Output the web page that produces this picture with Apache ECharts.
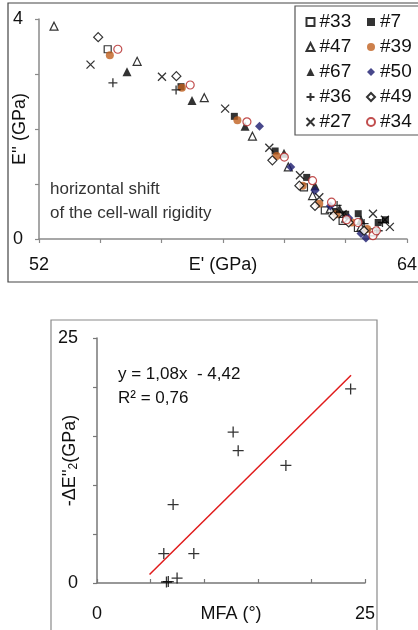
<!DOCTYPE html>
<html>
<head>
<meta charset="utf-8">
<script src="https://cdn.jsdelivr.net/npm/echarts@6/dist/echarts.min.js"></script>
<style>
html, body { margin: 0; padding: 0; background: #fff; }
#main { width: 418px; height: 630px; }
</style>
</head>
<body>
<div id="main"></div>
<script>
// top chart: E'' vs E' per sample
var s33 = [[54.24,3.45],[60.64,0.94],[61.32,0.52],[61.9,0.33],[62.4,0.2],[62.9,0.12]]
var s7  = [[56.63,2.77],[58.37,2.23],[59.7,1.6],[60.73,1.12],[61.6,0.5],[62.0,0.45],[62.41,0.46],[63.06,0.3],[63.3,0.35]]
var s47 = [[52.49,3.87],[55.2,3.23],[57.39,2.57],[58.96,1.87],[60.13,1.31],[60.92,0.79],[61.5,0.55],[62.0,0.38],[62.5,0.22]]
var s39 = [[54.31,3.34],[56.66,2.75],[58.47,2.16],[59.75,1.51],[60.6,0.97],[61.14,0.64],[61.7,0.45],[62.2,0.3],[62.7,0.18]]
var s67 = [[54.87,3.04],[56.99,2.52],[58.72,2.05],[59.99,1.56],[61.0,0.97],[61.8,0.55],[62.5,0.35]]
var s50 = [[59.19,2.05],[60.21,1.31],[61.0,0.88],[61.5,0.6],[62.1,0.38],[62.5,0.1],[62.66,0.02]]
var s36 = [[54.41,2.84],[56.47,2.71],[61.72,0.61],[62.6,0.28],[63.06,0.15],[63.2,0.3]]
var s49 = [[53.93,3.67],[56.48,2.96],[59.61,1.43],[60.49,0.97],[61.0,0.6],[61.6,0.42],[62.1,0.3],[62.6,0.15]]
var s27 = [[53.68,3.17],[56.01,2.95],[58.07,2.37],[59.51,1.66],[60.51,1.16],[61.14,0.76],[61.9,0.45],[62.89,0.46],[63.28,0.35],[63.44,0.22]]
var s34 = [[54.57,3.45],[56.93,2.8],[58.78,2.13],[60.0,1.49],[60.92,1.06],[61.54,0.67],[62.03,0.35],[62.4,0.3],[62.89,0.06],[63.0,0.15]]

var legendLeft = ['#33', '#47', '#67', '#36', '#27']
var legendRight = ['#7', '#39', '#50', '#49', '#34']

// bottom chart: -dE''2 vs MFA
var mfa = [23.66, 12.7, 13.17, 17.62, 7.1, 6.23, 9.03, 6.48, 6.65, 7.47]
var dE2 = [19.8, 15.4, 13.5, 12.0, 8.0, 3.0, 3.0, 0.1, 0.15, 0.5]
var fitX = [4.9, 23.7]
var fitY = [0.87, 21.2]

var topXLabels = ['52', '64']
var topYLabels = ['0', '4']
var botLabels = ['0', '25']

var FONT = 'Liberation Sans, Arial, sans-serif'
var PLUS = 'path://M5 0L5 10M0 5L10 5'
var CROSS = 'path://M0 0L10 10M10 0L0 10'

function edgeOnly(list) {
	return function (v) { return list.indexOf(String(v)) >= 0 ? String(v) : '' }
}

function sc(name, data, symbol, size, style) {
	return {
		name: name, type: 'scatter', xAxisIndex: 0, yAxisIndex: 0,
		data: data, symbol: symbol, symbolSize: size,
		itemStyle: style, emphasis: { disabled: true }
	}
}

var open = function (c) { return { color: '#fff', borderColor: c, borderWidth: 1.2 } }
var line = { color: 'none', borderColor: '#000', borderWidth: 1.3 }

var axisCommon = {
	nameMoveOverlap: false,
	axisLine: { lineStyle: { color: '#8a8a8a', width: 1.5 } },
	axisTick: { length: 4, lineStyle: { color: '#8a8a8a', width: 1.2 } },
	splitLine: { show: false },
	nameTextStyle: { fontFamily: FONT, fontSize: 18, color: '#111' }
}

var myChart = echarts.init(document.getElementById('main'))

var option = {
	animation: false,
	textStyle: { fontFamily: FONT },
	grid: [
		{ left: 39, top: 19, width: 368, height: 220, outerBoundsMode: 'none' },
		{ left: 97, top: 338, width: 268, height: 245, outerBoundsMode: 'none' }
	],
	xAxis: [
		Object.assign({}, axisCommon, {
			gridIndex: 0, type: 'value', min: 52, max: 64, interval: 2,
			name: "E' (GPa)", nameLocation: 'middle', nameGap: 17,
			axisLabel: { margin: 17, fontSize: 18, color: '#111', fontFamily: FONT, formatter: edgeOnly(topXLabels) }
		}),
		Object.assign({}, axisCommon, {
			gridIndex: 1, type: 'value', min: 0, max: 25, interval: 5,
			name: 'MFA (°)', nameLocation: 'middle', nameGap: 22,
			axisTick: { length: 4, inside: true, lineStyle: { color: '#777', width: 1.2 } },
			axisLine: { lineStyle: { color: '#777', width: 1.5 } },
			axisLabel: { margin: 22, fontSize: 18, color: '#111', fontFamily: FONT, formatter: edgeOnly(botLabels) }
		})
	],
	yAxis: [
		Object.assign({}, axisCommon, {
			gridIndex: 0, type: 'value', min: 0, max: 4, interval: 1,
			name: "E'' (GPa)", nameLocation: 'middle', nameGap: 10,
			axisLabel: { margin: 16, fontSize: 18, color: '#111', fontFamily: FONT, formatter: edgeOnly(topYLabels) }
		}),
		Object.assign({}, axisCommon, {
			gridIndex: 1, type: 'value', min: 0, max: 25, interval: 5,
			name: "-ΔE''{s|2}(GPa)", nameLocation: 'middle', nameGap: 17,
			axisLine: { lineStyle: { color: '#777', width: 1.5 } },
			axisTick: { length: 4, lineStyle: { color: '#777', width: 1.2 } },
			nameTextStyle: { fontFamily: FONT, fontSize: 18, color: '#111', rich: { s: { fontSize: 12, verticalAlign: 'bottom', padding: [8, 0, 0, 0], fontFamily: FONT, color: '#111' } } },
			axisLabel: { margin: 19, fontSize: 18, color: '#111', fontFamily: FONT, formatter: edgeOnly(botLabels) }
		})
	],
	legend: [
		{ data: legendLeft, orient: 'vertical', left: 304, top: 12, padding: 0, itemGap: 5, itemWidth: 8, itemHeight: 8,
		  textStyle: { fontSize: 19, lineHeight: 20, color: '#111', fontFamily: FONT }, selectedMode: false },
		{ data: legendRight, orient: 'vertical', left: 366, top: 12, padding: 0, itemGap: 5, itemWidth: 8, itemHeight: 8,
		  textStyle: { fontSize: 19, lineHeight: 20, color: '#111', fontFamily: FONT }, selectedMode: false }
	],
	graphic: [
		{ type: 'rect', z: 0, silent: true, shape: { x: 8, y: 3, width: 420, height: 279 }, style: { fill: 'none', stroke: '#444', lineWidth: 1.2 } },
		{ type: 'rect', z: 0, silent: true, shape: { x: 295, y: 6, width: 130, height: 129 }, style: { fill: '#fff', stroke: '#555', lineWidth: 1.2 } },
		{ type: 'rect', z: 0, silent: true, shape: { x: 51, y: 320, width: 326, height: 330 }, style: { fill: 'none', stroke: '#8a8a8a', lineWidth: 1.2 } },
		{ type: 'text', left: 50, top: 177, style: { text: 'horizontal shift\nof the cell-wall rigidity', font: '17px ' + FONT, fill: '#333', lineHeight: 24 } },
		{ type: 'text', left: 118, top: 362, style: { text: 'y = 1,08x  - 4,42\nR² = 0,76', font: '17px ' + FONT, fill: '#111', lineHeight: 24 } }
	],
	series: [
		sc('#33', s33, 'rect', 7, open('#000')),
		sc('#7', s7, 'rect', 7, { color: '#000' }),
		sc('#47', s47, 'triangle', 8, open('#000')),
		sc('#39', s39, 'circle', 8, { color: '#c0601f' }),
		sc('#67', s67, 'triangle', 9, { color: '#000' }),
		sc('#50', s50, 'diamond', 9, { color: '#1a1a6e' }),
		sc('#36', s36, PLUS, 9, line),
		sc('#49', s49, 'diamond', 9, open('#000')),
		sc('#27', s27, CROSS, 8, line),
		sc('#34', s34, 'circle', 8, open('#b22222')),
		{
			type: 'scatter', xAxisIndex: 1, yAxisIndex: 1,
			data: mfa.map(function (x, i) { return [x, dE2[i]] }),
			symbol: PLUS, symbolSize: 11, itemStyle: line
		},
		{
			type: 'line', xAxisIndex: 1, yAxisIndex: 1, showSymbol: false,
			data: fitX.map(function (x, i) { return [x, fitY[i]] }),
			lineStyle: { color: '#e01b1b', width: 1.5 }
		}
	]
}

myChart.setOption(option)
</script>
</body>
</html>
